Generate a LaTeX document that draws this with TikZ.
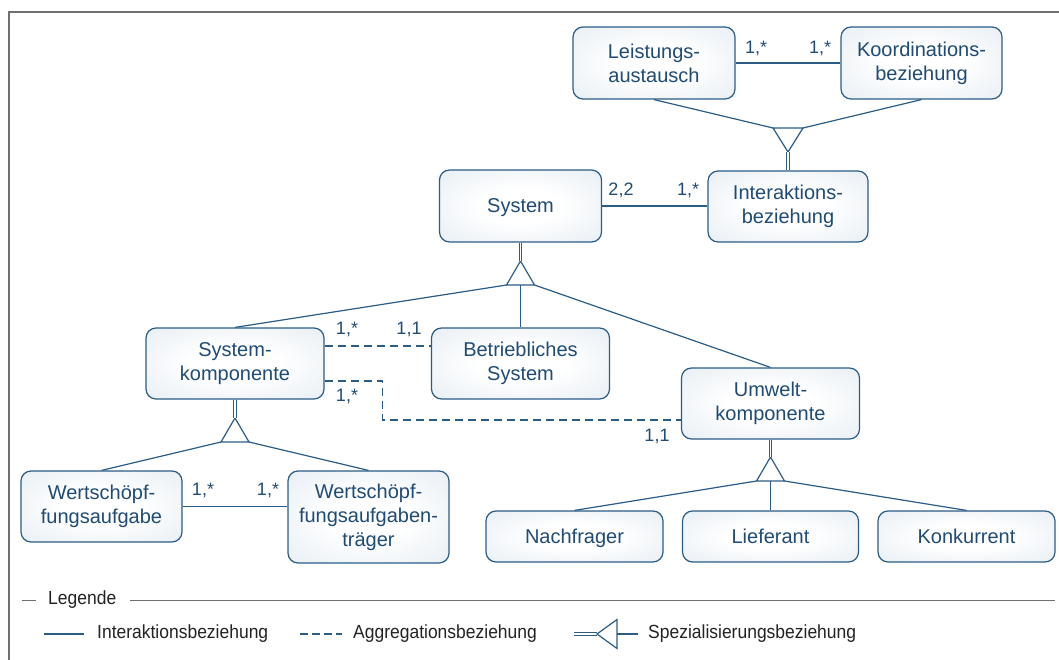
\documentclass[tikz,border=0pt]{standalone}
\usepackage{fontspec}
\setmainfont{Liberation Sans}
\newfontfamily\legendfont{Liberation Sans}[FakeStretch=0.92]
\usetikzlibrary{calc}

\definecolor{ink}{HTML}{1F4B74}
\definecolor{edge}{HTML}{2B5C86}
\definecolor{boxfill}{HTML}{D0DEEA}
\definecolor{framegray}{HTML}{707070}
\definecolor{legendink}{HTML}{222222}

% soft white centre fading to light blue at the border
\pgfdeclareradialshading{boxshade}{\pgfpoint{0bp}{0bp}}{%
  color(0bp)=(white); color(12bp)=(white); color(50bp)=(boxfill!80!white);
  color(72bp)=(boxfill); color(100bp)=(boxfill)}

\tikzset{
  box/.style={draw=edge, line width=1.2pt, rounded corners=10pt,
    shading=boxshade, text=ink, align=center, inner sep=0pt,
    font=\fontsize{20}{24}\selectfont},
  oneline/.style={text depth=0pt},
  rel/.style={draw=edge, line width=1.2pt},
  agg/.style={rel, dash pattern=on 8pt off 5pt},
  dbl/.style={draw=edge, double=white, double distance=1.6pt, line width=0.8pt},
  card/.style={text=ink, font=\fontsize{18}{20}\selectfont, inner sep=0pt},
  legendtext/.style={text=legendink, anchor=west, inner sep=0pt,
    font=\legendfont\fontsize{19}{21}\selectfont},
  % specialisation triangle, apex on top, base below
  specup/.pic={
    \draw[rel] (0,0) -- (-14,24) -- (14,24) -- cycle;
    \coordinate (-apex) at (0,0);
    \coordinate (-l) at (-14,24);
    \coordinate (-c) at (0,24);
    \coordinate (-r) at (14,24);
  },
  % specialisation triangle, apex below, base on top
  specdown/.pic={
    \draw[rel] (0,0) -- (-15,-24) -- (15,-24) -- cycle;
    \coordinate (-apex) at (0,0);
    \coordinate (-l) at (-15,-24);
    \coordinate (-r) at (15,-24);
  },
}

\begin{document}
\begin{tikzpicture}[x=1pt, y=-1pt]
\useasboundingbox (0,0) rectangle (1059,660);

% outer frame (top and left edges)
\draw[framegray, line width=1.6pt] (9,660) -- (9,12) -- (1059,12);

% entity boxes
\node[box, minimum width=162pt, minimum height=72pt] (leist) at (654,63) {Leistungs-\\austausch};
\node[box, minimum width=161pt, minimum height=72pt] (koord) at (921.5,63) {Koordinations-\\beziehung};
\node[box, minimum width=160pt, minimum height=71pt] (inter) at (788,206.5) {Interaktions-\\beziehung};
\node[box, oneline, minimum width=162pt, minimum height=72pt] (system) at (520.5,206) {System};
\node[box, minimum width=178pt, minimum height=71pt] (syskomp) at (235,363.5) {System-\\komponente};
\node[box, minimum width=178pt, minimum height=71pt] (betr) at (520.5,363.5) {Betriebliches\\System};
\node[box, minimum width=178pt, minimum height=71pt] (umwelt) at (770.5,403.5) {Umwelt-\\komponente};
\node[box, oneline, minimum width=177pt, minimum height=51pt] (nachfr) at (574.5,536.5) {Nachfrager};
\node[box, oneline, minimum width=176pt, minimum height=51pt] (liefer) at (770.5,536.5) {Lieferant};
\node[box, oneline, minimum width=177pt, minimum height=51pt] (konkur) at (966.5,536.5) {Konkurrent};
\node[box, minimum width=161pt, minimum height=71pt] (wsa) at (101.5,506.5) {Wertschöpf-\\fungsaufgabe};
\node[box, minimum width=161pt, minimum height=92pt] (wsat) at (368.5,517) {Wertschöpf-\\fungsaufgaben-\\träger};

% interaction relationships
\draw[rel] (leist.east) -- (koord.west);
\draw[rel] (system.east) -- (system.east -| inter.west);
\draw[rel] (wsa.east) -- (wsa.east -| wsat.west);

% aggregation relationships
\coordinate (aggA) at ([yshift=17.5pt]syskomp.east);
\coordinate (aggB) at ([yshift=-17.5pt]syskomp.east);
\coordinate (aggBend) at ([yshift=-16.5pt]umwelt.west);
\draw[agg] (aggA) -- (aggA -| betr.west);
\draw[agg] (aggB) -- ++(58,0) |- (aggBend);

% specialisation: Interaktionsbeziehung
\pic (sI) at (788,152) {specdown};
\draw[dbl] (sI-apex) -- (inter.north);
\draw[rel] (leist.south) -- (sI-l);
\draw[rel] (koord.south) -- (sI-r);

% specialisation: System
\pic (sS) at (520.5,261) {specup};
\draw[dbl] (system.south) -- (sS-apex);
\draw[rel] (sS-l) -- (syskomp.north);
\draw[rel] (sS-c) -- (betr.north);
\draw[rel] (sS-r) -- (umwelt.north);

% specialisation: Systemkomponente
\pic (sK) at (235,418) {specup};
\draw[dbl] (syskomp.south) -- (sK-apex);
\draw[rel] (sK-l) -- (wsa.north);
\draw[rel] (sK-r) -- (wsat.north);

% specialisation: Umweltkomponente
\pic (sU) at (770.5,457) {specup};
\draw[dbl] (umwelt.south) -- (sU-apex);
\draw[rel] (sU-l) -- (nachfr.north);
\draw[rel] (sU-c) -- (liefer.north);
\draw[rel] (sU-r) -- (konkur.north);

% cardinalities
\node[card] (c1) at (756,48) {1,*};
\node[card] (c2) at (820,48) {1,*};
\node[card] (c3) at (621,190) {2,2};
\node[card] (c4) at (688,190) {1,*};
\node[card] (c5) at (347,329.5) {1,*};
\node[card] (c6) at (409,329.5) {1,1};
\node[card] (c7) at (347,396) {1,*};
\node[card] (c8) at (657,436) {1,1};
\node[card] (c9) at (203,490) {1,*};
\node[card] (c10) at (268,490) {1,*};

% legend
\node[legendtext] (leg) at (48,600) {Legende};
\coordinate (legL) at (22,600);
\coordinate (legR) at (1055,600);
\draw[framegray, line width=0.9pt] (legL) -- ([xshift=-12pt]leg.west);
\draw[framegray, line width=0.9pt] ([xshift=14pt]leg.east) -- (legR);

\node[legendtext] (legI) at (97,634) {Interaktionsbeziehung};
\draw[rel] ([xshift=-53pt]legI.west) -- ([xshift=-13pt]legI.west);

\node[legendtext] (legA) at (353,634) {Aggregationsbeziehung};
\draw[agg, dash pattern=on 8pt off 4pt] ([xshift=-53pt]legA.west) -- ([xshift=-11pt]legA.west);

\node[legendtext] (legS) at (648,634) {Spezialisierungsbeziehung};
\coordinate (legApex) at (597,634);
\coordinate (legBase) at (617,634);
\draw[dbl] (574,634) -- (legApex);
\draw[rel] (legApex) -- (617,619.5) -- (617,648.5) -- cycle;
\draw[rel] (legBase) -- ([xshift=-10pt]legS.west);
\end{tikzpicture}
\end{document}
